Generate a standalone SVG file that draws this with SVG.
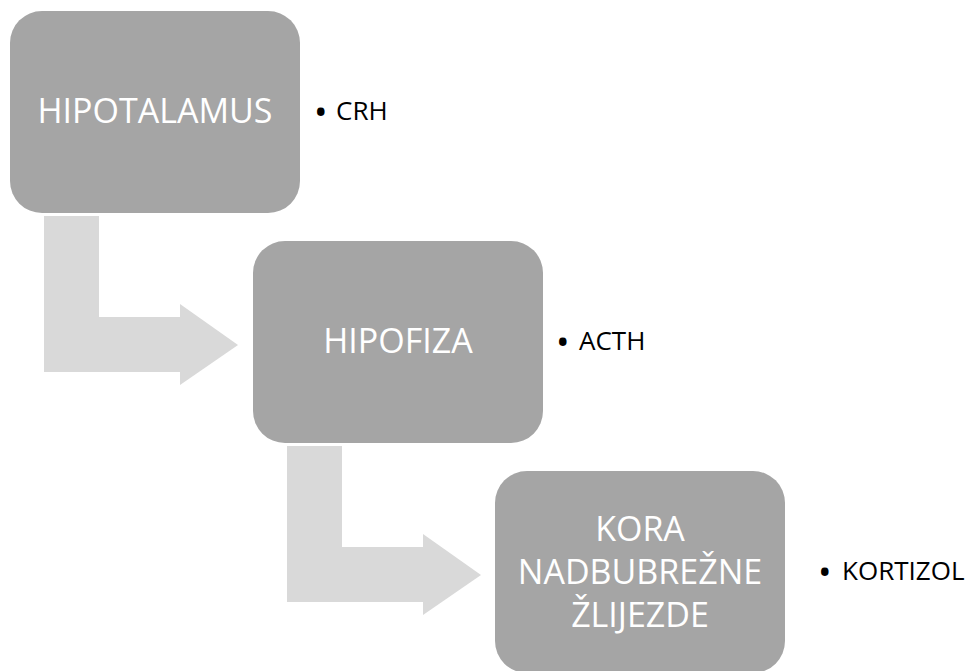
<svg xmlns="http://www.w3.org/2000/svg" width="968" height="671" viewBox="0 0 968 671">
<style>
.box{fill:#a5a5a5}
.arrow{fill:#d9d9d9}
.bt{font-family:"Open Sans","Liberation Sans",sans-serif;font-size:34px;fill:#ffffff;text-anchor:middle}
.lbl{font-family:"Open Sans","Liberation Sans",sans-serif;font-size:26px;fill:#000000}
.bul{font-size:36px}
</style>
<rect width="968" height="671" fill="#ffffff"/>
<g id="connectors">
<path class="arrow" d="M44,216 H99 V317 H180 V304 L238,345 L180,385 V372 H44 Z"/>
<path class="arrow" d="M287,446 H342 V547 H423 V534 L481,575 L423,615 V602 H287 Z"/>
</g>
<g id="hipotalamus">
<rect class="box" x="10" y="11" width="290" height="202" rx="32"/>
<text class="bt" x="155" y="123">HIPOTALAMUS</text>
</g>
<g id="crh"><text class="lbl" x="314" y="121"><tspan class="bul" y="125">•</tspan><tspan x="336" y="120">CRH</tspan></text></g>
<g id="hipofiza">
<rect class="box" x="253" y="241" width="290" height="202" rx="32"/>
<text class="bt" x="398" y="353">HIPOFIZA</text>
</g>
<g id="acth"><text class="lbl" x="556" y="351"><tspan class="bul" y="355">•</tspan><tspan x="579" y="350">ACTH</tspan></text></g>
<g id="kora">
<rect class="box" x="495" y="471" width="290" height="202" rx="32"/>
<text class="bt" x="640" y="541">KORA</text>
<text class="bt" x="640" y="584">NADBUBREŽNE</text>
<text class="bt" x="640" y="627">ŽLIJEZDE</text>
</g>
<g id="kortizol"><text class="lbl" x="818" y="581"><tspan class="bul" y="585">•</tspan><tspan x="842" y="580">KORTIZOL</tspan></text></g>
</svg>
